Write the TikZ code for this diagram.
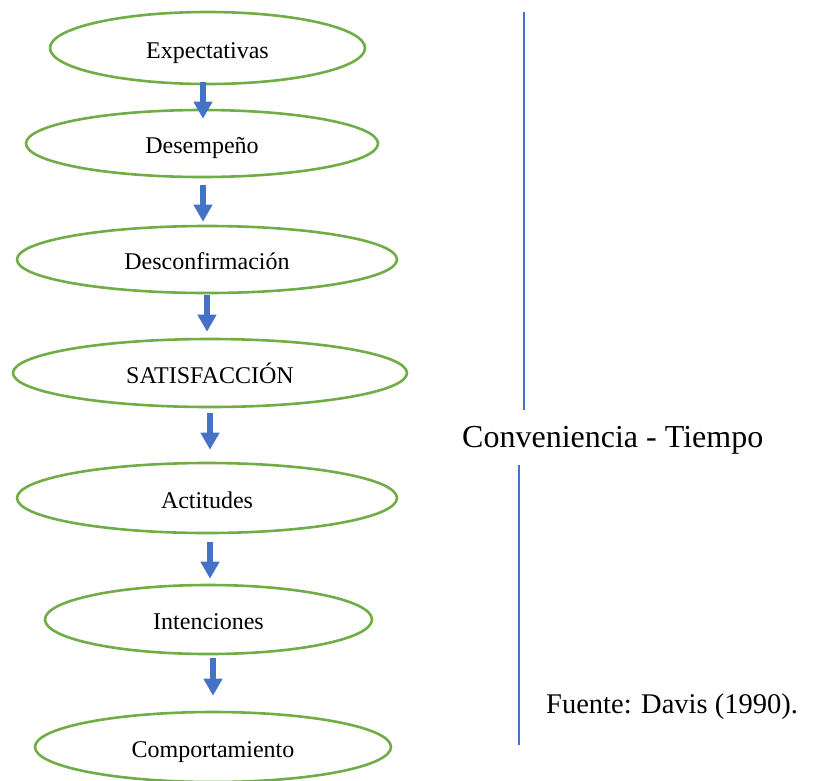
\documentclass[tikz,border=0pt]{standalone}
\usepackage{fontspec}
\setmainfont{Liberation Serif}
\usetikzlibrary{shapes.geometric,arrows.meta}
\definecolor{stagegreen}{HTML}{70AD47}
\definecolor{flowblue}{HTML}{4472C4}
\begin{document}
\begin{tikzpicture}[x=1pt,y=1pt,
  stage/.style={ellipse,draw=stagegreen,line width=2.6pt,inner sep=0pt,
    text height=20pt,text depth=0pt,font=\fontsize{24}{28}\selectfont},
  flow/.style={draw=flowblue,line width=5.5pt,
    -{Triangle[width=18pt,length=17pt]}},
  divider/.style={draw=flowblue,line width=1.3pt},
  note/.style={inner sep=0pt,anchor=base west}]
\useasboundingbox (0,0) rectangle (829,-780);

% stages of the model
\node[stage,minimum width=315pt,minimum height=72pt] (e1) at (207.5,-48) {Expectativas};
\node[stage,minimum width=352pt,minimum height=67pt] (e2) at (202,-143.5) {Desempeño};
\node[stage,minimum width=380pt,minimum height=67pt] (e3) at (207,-259.5) {Desconfirmación};
\node[stage,minimum width=394pt,minimum height=68pt] (e4) at (210,-373) {SATISFACCIÓN};
\node[stage,minimum width=380pt,minimum height=70pt] (e5) at (207,-498) {Actitudes};
\node[stage,minimum width=327pt,minimum height=69pt] (e6) at (208.5,-619.5) {Intenciones};
\node[stage,minimum width=356pt,minimum height=70pt] (e7) at (213,-747) {Comportamiento};

% arrows between consecutive stages
\draw[flow] ([shift={(-4.5,3)}]e1.south) -- ([shift={(1,-10)}]e2.north);
\draw[flow] ([shift={(1,-7)}]e2.south) -- ([shift={(-4,3)}]e3.north);
\draw[flow] ([shift={(0,-1)}]e3.south) -- ([shift={(-3,6)}]e4.north);
\draw[flow] ([shift={(0,-5)}]e4.south) -- ([shift={(3,12)}]e5.north);
\draw[flow] ([shift={(3,-8)}]e5.south) -- ([shift={(1.5,5)}]e6.north);
\draw[flow] ([shift={(4.5,-3)}]e6.south) -- ([shift={(0,15)}]e7.north);

% side rule and captions
\draw[divider] (524,-12) -- (524,-410);
\draw[divider] (519,-465) -- (519,-745);
\node[note,font=\fontsize{32}{38}\selectfont] (conv) at (462,-447) {Conveniencia - Tiempo};
\node[note,font=\fontsize{28.5}{34}\selectfont] (src) at (546,-713) {Fuente: Davis (1990).};
\end{tikzpicture}
\end{document}
